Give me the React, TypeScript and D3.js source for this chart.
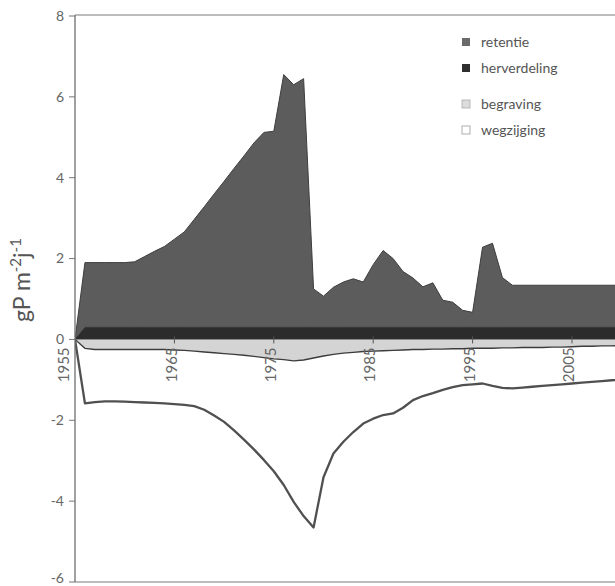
import React from 'react';
import * as d3 from 'd3';

const years = [
  1955, 1956, 1957, 1958, 1959, 1960, 1961, 1962, 1963, 1964,
  1965, 1966, 1967, 1968, 1969, 1970, 1971, 1972, 1973, 1974,
  1975, 1976, 1977, 1978, 1979, 1980, 1981, 1982, 1983, 1984,
  1985, 1986, 1987, 1988, 1989, 1990, 1991, 1992, 1993, 1994,
  1995, 1996, 1997, 1998, 1999, 2000, 2001, 2002, 2003, 2004,
  2005, 2006, 2007, 2008, 2009, 2010,
];

const herverdeling = [
  0, 0.3, 0.3, 0.3, 0.3, 0.3, 0.3, 0.3, 0.3, 0.3,
  0.3, 0.3, 0.3, 0.3, 0.3, 0.3, 0.3, 0.3, 0.3, 0.3,
  0.3, 0.3, 0.3, 0.3, 0.3, 0.3, 0.3, 0.3, 0.3, 0.3,
  0.3, 0.3, 0.3, 0.3, 0.3, 0.3, 0.3, 0.3, 0.3, 0.3,
  0.3, 0.3, 0.3, 0.3, 0.3, 0.3, 0.3, 0.3, 0.3, 0.3,
  0.3, 0.3, 0.3, 0.3, 0.3, 0.3,
];

const retentie = [
  0, 1.6, 1.6, 1.6, 1.6, 1.6, 1.62, 1.75, 1.88, 2.0,
  2.18, 2.36, 2.67, 2.98, 3.3, 3.61, 3.93, 4.24, 4.56, 4.82,
  4.85, 6.25, 6.0, 6.15, 0.95, 0.77, 0.99, 1.12, 1.2, 1.12,
  1.55, 1.9, 1.7, 1.38, 1.22, 1.0, 1.1, 0.67, 0.62, 0.42,
  0.37, 1.98, 2.08, 1.23, 1.04, 1.04, 1.04, 1.04, 1.04, 1.04,
  1.04, 1.04, 1.04, 1.04, 1.04, 1.04,
];

const begraving = [
  0, -0.22, -0.25, -0.25, -0.25, -0.25, -0.25, -0.25, -0.25, -0.25,
  -0.26, -0.27, -0.29, -0.31, -0.33, -0.35, -0.37, -0.39, -0.42, -0.45,
  -0.48, -0.5, -0.53, -0.51, -0.46, -0.41, -0.37, -0.34, -0.32, -0.3,
  -0.29, -0.28, -0.27, -0.26, -0.25, -0.25, -0.24, -0.24, -0.23, -0.23,
  -0.22, -0.22, -0.22, -0.21, -0.21, -0.2, -0.2, -0.2, -0.19, -0.19,
  -0.18, -0.17, -0.17, -0.16, -0.16, -0.15,
];

const wegzijging = [
  0, -1.36, -1.3, -1.28, -1.28, -1.29, -1.3, -1.31, -1.32, -1.33,
  -1.34, -1.35, -1.36, -1.43, -1.55, -1.69, -1.88, -2.09, -2.3, -2.53,
  -2.78, -3.1, -3.49, -3.86, -4.19, -3.0, -2.45, -2.19, -1.97, -1.78,
  -1.67, -1.59, -1.56, -1.43, -1.25, -1.15, -1.09, -1.01, -0.95, -0.9,
  -0.89, -0.87, -0.93, -0.99, -1.0, -0.99, -0.97, -0.95, -0.94, -0.92,
  -0.91, -0.9, -0.88, -0.87, -0.85, -0.85,
];

const yTicks = [-6, -4, -2, 0, 2, 4, 6, 8];
const xTickYears = [1955, 1965, 1975, 1985, 1995, 2005];
const legendLabels = ['retentie', 'herverdeling', 'begraving', 'wegzijging'];

const W = 615;
const H = 586;
const FONT = 'Lato, "Open Sans", sans-serif';

export default function App() {
  const plotLeft = 75;
  const plotTop = 15;
  const plotBottom = 582;

  const x = d3.scaleLinear().domain([1955, 2005]).range([75, 572]);
  const y = d3.scaleLinear().domain([-6, 8]).range([582, 16]);

  const rows = years.map((yr, i) => ({
    year: yr,
    herverdeling: herverdeling[i],
    retentie: retentie[i],
    begraving: begraving[i],
    wegzijging: wegzijging[i],
  }));

  const keys = ['herverdeling', 'retentie', 'begraving', 'wegzijging'];
  const stack = d3.stack<any>().keys(keys).offset(d3.stackOffsetDiverging);
  const series = stack(rows);
  const byKey: Record<string, any> = {};
  series.forEach((s) => (byKey[s.key] = s));

  const area = d3
    .area<any>()
    .x((d) => x(d.data.year))
    .y0((d) => y(d[0]))
    .y1((d) => y(d[1]));

  const lowerLine = d3
    .line<any>()
    .x((d) => x(d.data.year))
    .y((d) => y(d[0]));

  const fills: Record<string, string> = {
    retentie: '#5c5c5c',
    herverdeling: '#2c2c2c',
    begraving: '#d4d4d4',
    wegzijging: '#ffffff',
  };

  const legendY = [42, 68, 104, 130];

  return (
    <svg
      width={W}
      height={H}
      style={{ position: 'absolute', left: 0, top: 0, background: '#fff' }}
      fontFamily={FONT}
    >
      <defs>
        <clipPath id="plotclip">
          <rect x={plotLeft} y={plotTop} width={W - plotLeft} height={plotBottom - plotTop} />
        </clipPath>
      </defs>

      <g clipPath="url(#plotclip)">
        <path d={area(byKey.wegzijging) || ''} fill={fills.wegzijging} />
        <path d={area(byKey.begraving) || ''} fill={fills.begraving} />
        <path
          d={area(byKey.retentie) || ''}
          fill={fills.retentie}
          stroke="#3e3e3e"
          strokeWidth={1}
        />
        <path d={area(byKey.herverdeling) || ''} fill={fills.herverdeling} />
        <path
          d={lowerLine(byKey.begraving) || ''}
          fill="none"
          stroke="#3c3c3c"
          strokeWidth={1.4}
        />
        <path
          d={lowerLine(byKey.wegzijging) || ''}
          fill="none"
          stroke="#505050"
          strokeWidth={2.3}
          strokeLinejoin="round"
        />
        {xTickYears.map((yr) => (
          <line
            key={'xt' + yr}
            x1={x(yr)}
            x2={x(yr)}
            y1={y(0) - 3}
            y2={y(0) + 4}
            stroke="#555"
            strokeWidth={1}
          />
        ))}
      </g>

      {/* frame */}
      <line x1={plotLeft} x2={plotLeft} y1={plotTop} y2={plotBottom} stroke="#6e6e6e" strokeWidth={1.3} />
      <line x1={plotLeft} x2={W} y1={plotTop} y2={plotTop} stroke="#7a7a7a" strokeWidth={1.2} />
      <line x1={plotLeft} x2={W} y1={plotBottom} y2={plotBottom} stroke="#7a7a7a" strokeWidth={1.2} />

      {/* y ticks */}
      {yTicks.map((t) => (
        <g key={'yt' + t}>
          <line x1={plotLeft - 6} x2={plotLeft} y1={y(t)} y2={y(t)} stroke="#777" strokeWidth={1} />
          <text
            x={plotLeft - 11}
            y={t === -6 ? y(t) - 4 : y(t)}
            dy="0.35em"
            textAnchor="end"
            fontSize={14}
            fill="#666"
          >
            {t}
          </text>
        </g>
      ))}

      {/* x tick labels */}
      {xTickYears.map((yr) => (
        <text
          key={'xl' + yr}
          transform={`translate(${x(yr) - (yr === 1955 ? 11 : 3)},${y(0) + 8}) rotate(-90)`}
          dy="0.35em"
          textAnchor="end"
          fontSize={15}
          fill="#666"
        >
          {yr}
        </text>
      ))}

      {/* y title */}
      <text
        transform="translate(30,280) rotate(-90)"
        textAnchor="middle"
        fontSize={23}
        fill="#555"
      >
        gP m
        <tspan dy={-9} fontSize={15}>-2</tspan>
        <tspan dy={9}>j</tspan>
        <tspan dy={-9} fontSize={15}>-1</tspan>
      </text>

      {/* legend */}
      {legendLabels.map((lab, i) => (
        <g key={'lg' + lab}>
          <rect
            x={462}
            y={legendY[i] - 4}
            width={8}
            height={8}
            fill={
              lab === 'retentie'
                ? '#6a6a6a'
                : lab === 'herverdeling'
                ? '#2f2f2f'
                : lab === 'begraving'
                ? '#dcdcdc'
                : '#ffffff'
            }
            stroke={lab === 'begraving' ? '#aaa' : lab === 'wegzijging' ? '#999' : 'none'}
            strokeWidth={0.8}
          />
          <text x={481} y={legendY[i]} dy="0.35em" fontSize={14} fill="#555">
            {lab}
          </text>
        </g>
      ))}
    </svg>
  );
}
